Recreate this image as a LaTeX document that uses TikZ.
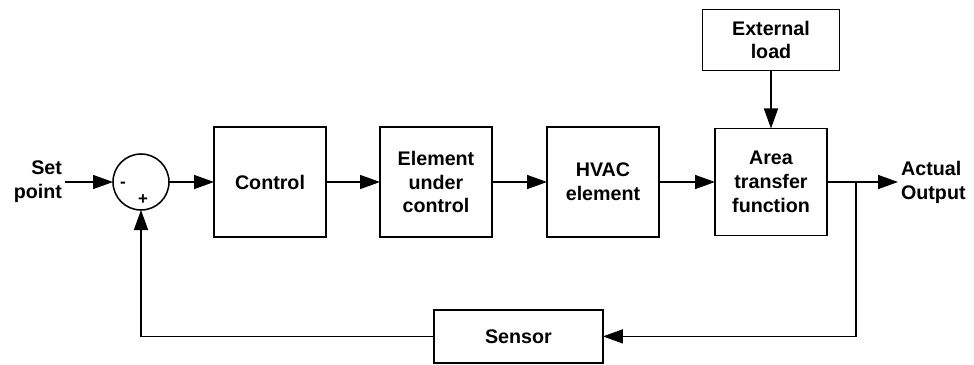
\documentclass[tikz,border=0pt]{standalone}
\usepackage{fontspec}
\setmainfont{Liberation Sans}
\usepackage{tikz}
\usetikzlibrary{arrows.meta, positioning}

\begin{document}
\begin{tikzpicture}[
		block/.style = {draw, line width=1.1pt, align=center, inner sep=2pt, outer sep=0pt,
			minimum width=2.8cm, minimum height=2.75cm, font=\bfseries\fontsize{14}{17}\selectfont},
		sumnode/.style = {draw, circle, line width=1.1pt, minimum size=1.4cm, inner sep=0pt, outer sep=0pt},
		txt/.style = {align=center, inner sep=2pt, font=\bfseries\fontsize{14}{17}\selectfont},
		sign/.style = {inner sep=0pt, font=\bfseries\fontsize{12}{12}\selectfont},
		flow/.style = {line width=1.1pt, -{Triangle[length=5mm, width=3.5mm]}}
	]
	\useasboundingbox (0,0) rectangle (24.35,-9.125);

	\node [sumnode] (sum) at (3.525,-4.55) {};
	\node [sign] (minus) at ([xshift=-0.45cm, yshift=-0.08cm]sum.center) {-};
	\node [sign] (plus) at ([xshift=0.05cm, yshift=-0.45cm]sum.center) {+};
	\node [txt, left = 1.2cm of sum, align=right] (setpoint) {Set\\point};
	\node [block, right = 1.125cm of sum] (control) {Control};
	\node [block, right = 1.35cm of control] (element) {Element\\under\\control};
	\node [block, right = 1.375cm of element] (hvac) {HVAC\\element};
	\node [block, right = 1.4cm of hvac, minimum height=2.675cm] (area) {Area\\transfer\\function};
	\node [block, above = 1.45cm of area, minimum width=3.425cm, minimum height=1.525cm] (extload) {External\\load};
	\node [block, minimum width=4.225cm, minimum height=1.325cm] (sensor) at (12.96,-8.41) {Sensor};
	\coordinate [right = 0.725cm of area] (branch);
	\node [txt, right = 1.775cm of area, align=left] (output) {Actual\\Output};

	\draw [flow] (setpoint) -- (sum);
	\draw [flow] (sum) -- (control);
	\draw [flow] (control) -- (element);
	\draw [flow] (element) -- (hvac);
	\draw [flow] (hvac) -- (area);
	\draw [flow] (extload) -- (area);
	\draw [flow] (area) -- (output);
	\draw [flow] (branch) |- (sensor.east);
	\draw [flow] (sensor.west) -| (sum.south);
\end{tikzpicture}
\end{document}
